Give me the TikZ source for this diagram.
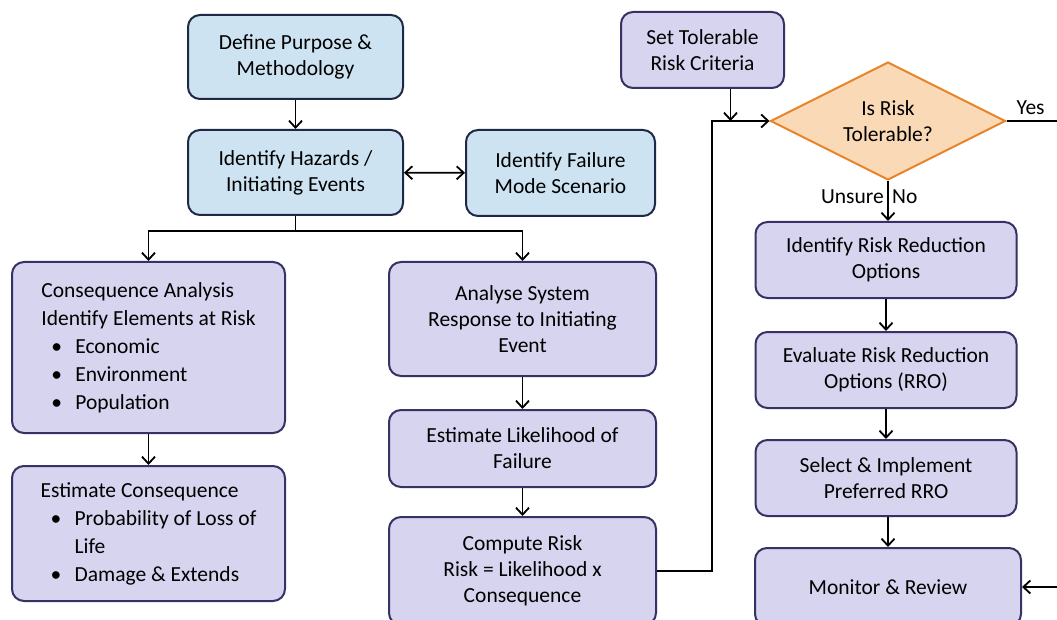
\documentclass[tikz,border=0pt]{standalone}
\usepackage{fontspec}
\setmainfont{Carlito}
\usetikzlibrary{arrows.meta,shapes.geometric}
\definecolor{bluefill}{HTML}{CDE3F1}
\definecolor{blueline}{HTML}{1E2A45}
\definecolor{purfill}{HTML}{D6D4EE}
\definecolor{purline}{HTML}{363265}
\definecolor{orfill}{HTML}{FAD9B6}
\definecolor{orline}{HTML}{E8852A}
\newcommand{\bitem}[1]{\hspace*{10pt}\makebox[24pt][l]{\textbullet}#1}
\begin{document}
\begin{tikzpicture}[x=1pt,y=-1pt,
  font=\fontsize{21.5}{26}\selectfont,
  box/.style={draw, line width=2pt, rounded corners=12pt, align=center, inner sep=4pt},
  bluebox/.style={box, draw=blueline, fill=bluefill},
  purbox/.style={box, draw=purline, fill=purfill},
  listbox/.style={purbox, align=left, font=\fontsize{21.5}{28}\selectfont},
  tip/.tip={Straight Barb[length=7pt,width=13pt]},
  ln/.style={line width=1.8pt},
  arr/.style={ln, -tip},
]
\useasboundingbox (0,0) rectangle (1057,620);

% left/top blue boxes
\node[bluebox, minimum width=215pt, minimum height=84pt] (def) at (295.5,57) {Define Purpose \&\\Methodology};
\node[bluebox, minimum width=215pt, minimum height=85pt] (haz) at (295.5,172.5) {Identify Hazards /\\Initiating Events};
\node[bluebox, minimum width=189pt, minimum height=86pt] (fail) at (560.5,173) {Identify Failure\\Mode Scenario};

% left column
\node[listbox, minimum width=273pt, minimum height=171pt] (ca) at (148.5,347.5)
  {Consequence Analysis\\Identify Elements at Risk\\\bitem{Economic}\\\bitem{Environment}\\\bitem{Population}};
\node[listbox, minimum width=273pt, minimum height=135pt] (ec) at (148.5,533.5)
  {Estimate Consequence\\\bitem{Probability of Loss of}\\\hspace*{34pt}Life\\\bitem{Damage \& Extends}};

% middle column
\node[purbox, minimum width=267pt, minimum height=114pt] (as) at (522.5,319) {Analyse System\\Response to Initiating\\Event};
\node[purbox, minimum width=267pt, minimum height=77pt] (el) at (522.5,448.5) {Estimate Likelihood of\\Failure};
\node[purbox, minimum width=267pt, minimum height=108pt] (cr) at (522.5,571) {Compute Risk\\Risk = Likelihood x\\Consequence};

% right column
\node[purbox, minimum width=163pt, minimum height=76pt] (tol) at (702.5,50) {Set Tolerable\\Risk Criteria};
\node[diamond, draw=orline, fill=orfill, line width=2pt, aspect=2, inner sep=0pt,
      minimum width=235pt, minimum height=118pt, align=center] (dia) at (888,121) {Is Risk\\Tolerable?};
\node[purbox, minimum width=261pt, minimum height=76pt] (ra) at (886,260) {Identify Risk Reduction\\Options};
\node[purbox, minimum width=261pt, minimum height=76pt] (ev) at (886,370) {Evaluate Risk Reduction\\Options (RRO)};
\node[purbox, minimum width=261pt, minimum height=76pt] (sel) at (886,478) {Select \& Implement\\Preferred RRO};
\node[purbox, minimum width=266pt, minimum height=78pt] (mon) at (888,587) {Monitor \& Review};

% coordinates
\coordinate (br) at (295.5,231);
\coordinate (lp) at (712,121);
\coordinate (yesend) at (1060,121);
\coordinate (monin) at (1060,587);

% connectors
\draw[arr] (def) -- (haz);
\draw[ln, tip-tip] (haz) -- (fail);
\draw[ln] (haz) -- (br);
\draw[arr] (br) -| (ca);
\draw[arr] (br) -| (as);
\draw[arr] (ca) -- (ec);
\draw[arr] (as) -- (el);
\draw[arr] (el) -- (cr);
\draw[arr] (cr.east) -| (lp) -- (dia.west);
\draw[arr] ([xshift=28pt]tol.south) -- ([xshift=28pt]tol.south |- dia.west);
\draw[ln] (dia.east) -- (yesend) node[pos=0.45, above=2pt] (yes) {Yes};
\draw[arr] (dia.south) -- (dia.south |- ra.north)
  node[pos=0.4, left=0pt] (unsure) {Unsure}
  node[pos=0.4, right=0pt] (no) {No};
\draw[arr] (ra) -- (ev);
\draw[arr] (ev) -- (sel);
\draw[arr] (sel.south -| mon.north) -- (mon.north);
\draw[arr] (monin) -- (mon.east);
\end{tikzpicture}
\end{document}
